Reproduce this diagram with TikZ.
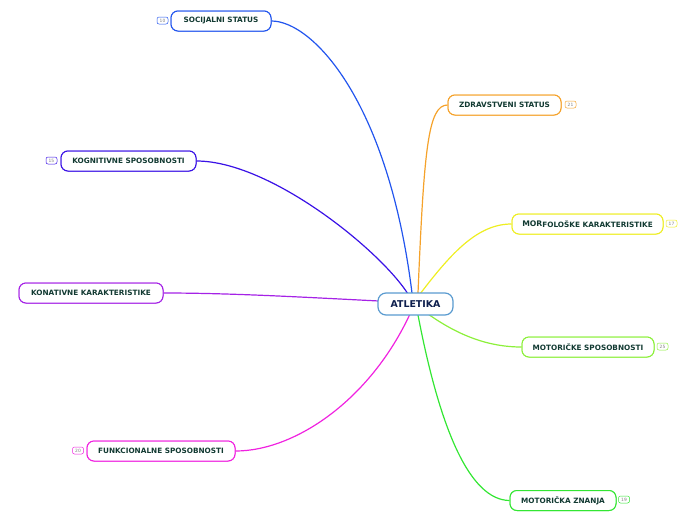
\documentclass[tikz,border=0pt]{standalone}
\usepackage{fontspec}
\setmainfont{DejaVu Sans}
\begin{document}
\begin{tikzpicture}[x=1pt,y=-1pt,
  topic/.style={draw=#1, line width=1pt, fill=white, rounded corners=7pt,
    inner sep=0pt, minimum height=20pt, font=\fontsize{7.3}{8}\selectfont\bfseries,
    text=textc},
  badge/.style={draw=#1, line width=0.5pt, fill=white, rounded corners=2pt,
    inner sep=0pt, minimum width=11pt, minimum height=7pt,
    font=\fontsize{4.4}{5}\selectfont, text=gray},
  branch/.style={draw=#1, line width=1.2pt},
]
\definecolor{textc}{HTML}{123A32}
\definecolor{cblue}{HTML}{2255EE}
\definecolor{corange}{HTML}{F5A22A}
\definecolor{cindigo}{HTML}{3A12E6}
\definecolor{cyellow}{HTML}{EEEE22}
\definecolor{cpurple}{HTML}{A522E6}
\definecolor{clime}{HTML}{8CF03A}
\definecolor{cmagenta}{HTML}{F022E0}
\definecolor{cgreen}{HTML}{33E633}
\definecolor{ccenter}{HTML}{5A9BD0}
\definecolor{cnavy}{HTML}{0E1F4E}
\useasboundingbox (0,0) rectangle (696,520);

\coordinate (c1) at (412,293);
\coordinate (c2) at (418,293);
\coordinate (c3) at (408,294);
\coordinate (c4) at (379,301);
\coordinate (c5) at (410,314);
\coordinate (c6) at (420,294);
\coordinate (c7) at (428,314);
\coordinate (c8) at (418,315);

% topic nodes (placed first so branches can reference them)
\node[topic=cblue, minimum width=100pt] (soc) at (221,21) {};
\node[topic=corange, minimum width=113pt] (zdr) at (504.5,105) {};
\node[topic=cindigo, minimum width=135pt] (kog) at (128.5,161) {};
\node[topic=cyellow, minimum width=151pt] (mor) at (587.5,224) {};
\node[topic=cpurple, minimum width=144pt] (kon) at (91,293) {};
\node[topic=clime, minimum width=132pt] (mots) at (588,347) {};
\node[topic=cmagenta, minimum width=148pt] (fun) at (161,451) {};
\node[topic=cgreen, minimum width=106pt] (motz) at (563,500.5) {};

\draw[branch=cblue] (c1) .. controls (388,100) and (312,21) .. (soc.east);
\draw[branch=corange] (c2) .. controls (424,150) and (428,105) .. (zdr.west);
\draw[branch=cindigo] (c3) .. controls (380,250) and (270,161) .. (kog.east);
\draw[branch=cpurple] (c4) .. controls (300,297) and (230,293) .. (kon.east);
\draw[branch=cmagenta] (c5) .. controls (370,400) and (295,451) .. (fun.east);
\draw[branch=cyellow] (c6) .. controls (452,252) and (478,224) .. (mor.west);
\draw[branch=clime] (c7) .. controls (462,338) and (492,347) .. (mots.west);
\draw[branch=cgreen] (c8) .. controls (440,430) and (470,500) .. (motz.west);

% topic nodes with text, on top of branches
\node[topic=cblue, minimum width=100pt] (soct) at (soc) {SOCIJALNI STATUS};
\node[topic=corange, minimum width=113pt] (zdrt) at (zdr) {ZDRAVSTVENI STATUS};
\node[topic=cindigo, minimum width=135pt] (kogt) at (kog) {KOGNITIVNE SPOSOBNOSTI};
\node[topic=cyellow, minimum width=151pt] (mort) at (mor) {\raisebox{0.8pt}{\fontsize{7.7}{8}\selectfont MOR}FOLOŠKE KARAKTERISTIKE};
\node[topic=cpurple, minimum width=144pt] (kont) at (kon) {KONATIVNE KARAKTERISTIKE};
\node[topic=clime, minimum width=132pt] (motst) at (mots) {MOTORIČKE SPOSOBNOSTI};
\node[topic=cmagenta, minimum width=148pt] (funt) at (fun) {FUNKCIONALNE SPOSOBNOSTI};
\node[topic=cgreen, minimum width=106pt] (motzt) at (motz) {MOTORIČKA ZNANJA};

\node[draw=ccenter, line width=1.2pt, fill=white, rounded corners=8pt,
  minimum width=75pt, minimum height=22pt, inner sep=0pt,
  font=\fontsize{9.4}{10}\selectfont\bfseries, text=cnavy] (atl) at (415.5,304) {ATLETIKA};

% badges
\node[badge=cblue] (b1) at (162.5,20.5) {10};
\node[badge=corange] (b2) at (570.5,104.5) {21};
\node[badge=cindigo] (b3) at (51.5,160.5) {15};
\node[badge=cyellow] (b4) at (671.5,223.5) {17};
\node[badge=clime] (b5) at (662.5,346.5) {25};
\node[badge=cmagenta] (b6) at (78,450.5) {20};
\node[badge=cgreen] (b7) at (624,499.5) {19};
\end{tikzpicture}
\end{document}
